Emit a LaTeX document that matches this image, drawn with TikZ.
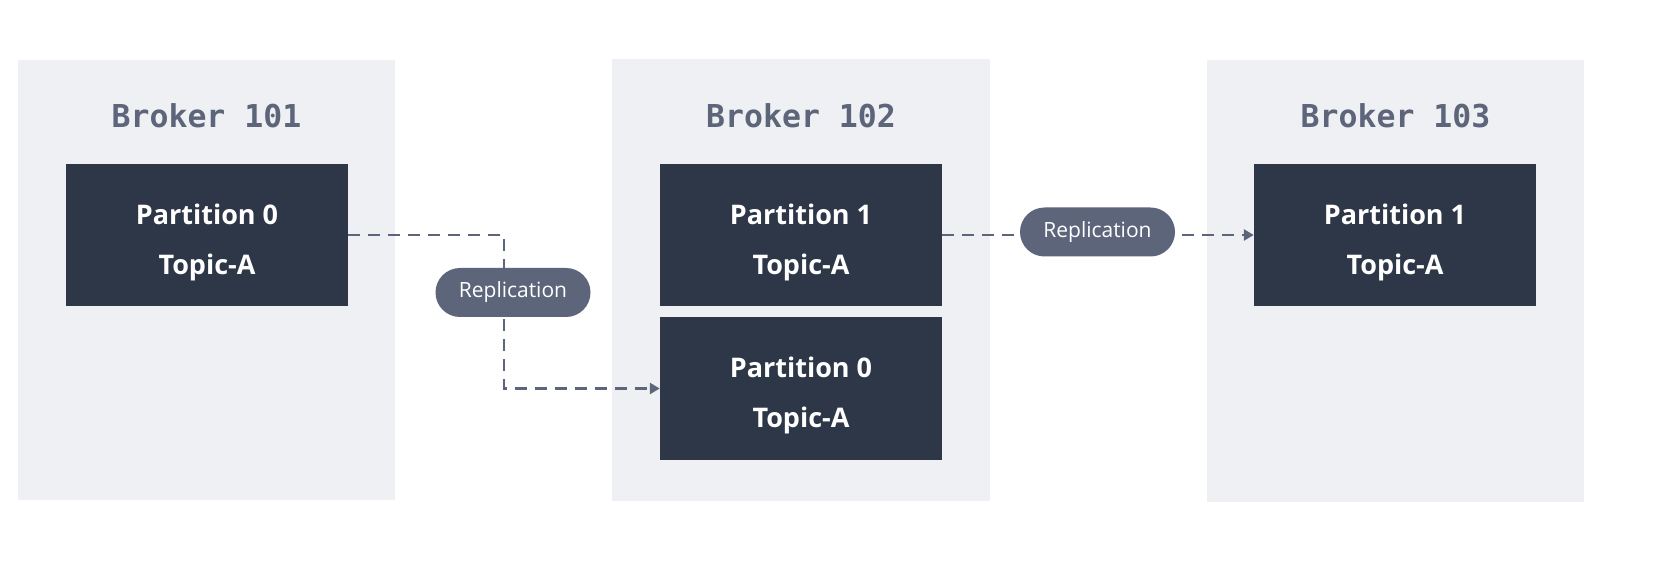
\documentclass[tikz,border=0pt]{standalone}
\usepackage{fontspec}
\setmainfont{Open Sans}
\newfontfamily\titlefont{DejaVu Sans Mono}
\usetikzlibrary{arrows.meta}
\definecolor{brokerbg}{HTML}{EFF0F4}
\definecolor{partbg}{HTML}{2E3748}
\definecolor{slate}{HTML}{5C6579}
\tikzset{
  broker/.style={fill=brokerbg, draw=none},
  partbox/.style={fill=partbg, draw=none, minimum width=282pt, minimum height=142pt, inner sep=0pt},
  parttext/.style={text=white, align=center, inner sep=0pt, yshift=-7pt,
    font=\fontsize{27}{50}\selectfont\bfseries},
  title/.style={text=slate, font=\titlefont\fontsize{31.5}{36}\selectfont\bfseries, inner sep=0pt},
  pill/.style={fill=slate, rounded corners=24.5pt, minimum width=155pt, minimum height=49pt, inner sep=0pt,
    text=white, font=\fontsize{21}{24}\selectfont},
  repl/.style={draw=slate, line width=2.6pt, dash pattern=on 12pt off 8pt,
    -{Triangle[length=10pt,width=11pt]}},
}
\begin{document}
\begin{tikzpicture}[x=1pt,y=-1pt]
\useasboundingbox (0,0) rectangle (1668,561);
\fill[white] (0,0) rectangle (1668,561);
% broker areas
\path[broker] (18,60) rectangle (395,500);
\path[broker] (612,59) rectangle (990,501);
\path[broker] (1207,60) rectangle (1584,502);
\node[title] (t1) at (206.5,116) {Broker 101};
\node[title] (t2) at (801,116) {Broker 102};
\node[title] (t3) at (1395.5,116) {Broker 103};
% partitions
\node[partbox, label={[parttext]center:{Partition 0\\Topic-A}}] (p0a) at (207,235) {};
\node[partbox, label={[parttext]center:{Partition 1\\Topic-A}}] (p1b) at (801,235) {};
\node[partbox, label={[parttext]center:{Partition 0\\Topic-A}}] (p0b) at (801,388.5) {};
\node[partbox, label={[parttext]center:{Partition 1\\Topic-A}}] (p1c) at (1395,235) {};
% connectors
\coordinate (c1) at (504,235);
\coordinate (c2) at (504,388.5);
\draw[repl] (p0a.east) -- (c1) -- (c2) -- (p0b.west);
\draw[repl] (p1b.east) -- (p1c.west);
% labels
\node[pill] (r1) at (513,292.5) {Replication};
\node[pill] (r2) at (1097.5,232) {Replication};
\end{tikzpicture}
\end{document}
